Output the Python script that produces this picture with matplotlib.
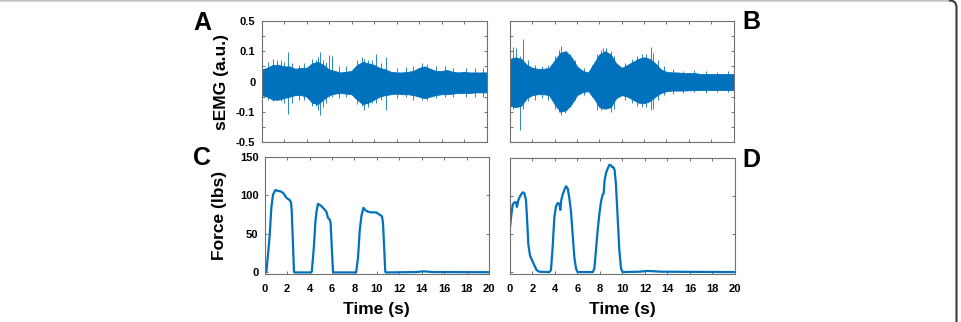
import numpy as np
import matplotlib
matplotlib.use('Agg')
import matplotlib.pyplot as plt
from matplotlib.patches import FancyBboxPatch
from matplotlib.lines import Line2D
from matplotlib.transforms import IdentityTransform

plt.rcParams['font.family'] = ['Liberation Sans', 'DejaVu Sans']
plt.rcParams['font.weight'] = 'bold'

blue = '#0072BD'

emg_t = np.arange(0, 20.5, 0.5)
emg_a_upper = [0.040, 0.045, 0.055, 0.055, 0.050, 0.050, 0.042, 0.045, 0.045, 0.060,
               0.065, 0.055, 0.040, 0.035, 0.030, 0.032, 0.035, 0.055, 0.065, 0.060,
               0.055, 0.045, 0.040, 0.032, 0.030, 0.030, 0.032, 0.035, 0.045, 0.050,
               0.042, 0.035, 0.035, 0.038, 0.032, 0.030, 0.032, 0.030, 0.030, 0.030, 0.030]
emg_a_lower = [-0.045, -0.050, -0.060, -0.060, -0.055, -0.050, -0.045, -0.045, -0.050, -0.070,
               -0.075, -0.060, -0.045, -0.040, -0.038, -0.040, -0.042, -0.060, -0.075, -0.070,
               -0.060, -0.050, -0.045, -0.042, -0.040, -0.042, -0.042, -0.045, -0.050, -0.055,
               -0.050, -0.045, -0.042, -0.042, -0.040, -0.038, -0.038, -0.038, -0.036, -0.036, -0.036]
emg_b_upper = [0.075, 0.080, 0.075, 0.055, 0.045, 0.042, 0.042, 0.045, 0.070, 0.095,
               0.100, 0.080, 0.050, 0.035, 0.030, 0.060, 0.090, 0.100, 0.090, 0.060,
               0.045, 0.055, 0.065, 0.075, 0.080, 0.075, 0.060, 0.040, 0.032, 0.030,
               0.030, 0.028, 0.028, 0.028, 0.025, 0.025, 0.025, 0.025, 0.025, 0.025, 0.025]
emg_b_lower = [-0.080, -0.085, -0.080, -0.055, -0.045, -0.042, -0.042, -0.045, -0.075, -0.100,
               -0.095, -0.075, -0.045, -0.035, -0.032, -0.055, -0.085, -0.090, -0.085, -0.055,
               -0.045, -0.050, -0.060, -0.070, -0.072, -0.065, -0.050, -0.038, -0.032, -0.030,
               -0.030, -0.030, -0.029, -0.029, -0.028, -0.028, -0.028, -0.028, -0.028, -0.028, -0.028]

# spikes sticking out of the band: time, top, bottom
spike_a_t = [0.6, 1.0, 1.4, 1.7, 2.0, 2.38, 2.7, 3.3, 3.8, 4.5, 4.8, 5.0, 5.2, 5.5, 5.7,
             6.0, 6.3, 6.9, 7.5, 8.5, 8.9, 9.1, 9.5, 9.8, 10.2, 10.6, 11.1, 12.0, 12.8,
             13.5, 14.3, 14.7, 15.5, 16.3, 17.0, 18.2, 19.0, 19.7]
spike_a_hi = [0.065, 0.075, 0.072, 0.070, 0.065, 0.097, 0.060, 0.055, 0.060, 0.075, 0.070,
              0.080, 0.097, 0.070, 0.065, 0.088, 0.085, 0.050, 0.050, 0.070, 0.080, 0.075,
              0.072, 0.070, 0.090, 0.060, 0.080, 0.045, 0.048, 0.050, 0.060, 0.058, 0.050,
              0.050, 0.045, 0.045, 0.045, 0.045]
spike_a_lo = [-0.060, -0.065, -0.060, -0.065, -0.070, -0.128, -0.070, -0.060, -0.060, -0.080,
              -0.080, -0.095, -0.140, -0.085, -0.070, -0.050, -0.050, -0.055, -0.050, -0.075,
              -0.080, -0.095, -0.085, -0.070, -0.070, -0.060, -0.095, -0.055, -0.050, -0.060,
              -0.062, -0.060, -0.055, -0.050, -0.050, -0.050, -0.050, -0.050]
spike_b_t = [0.3, 0.55, 0.9, 1.15, 1.6, 2.2, 2.9, 3.4, 4.0, 4.4, 4.6, 4.9, 5.1, 5.4, 5.8,
             6.6, 7.3, 7.8, 8.1, 8.3, 8.6, 9.0, 9.3, 10.3, 10.9, 11.4, 11.8, 12.2, 12.6,
             12.8, 13.2, 13.8, 14.6, 15.5, 16.5, 17.5, 18.5, 19.5]
spike_b_hi = [0.160, 0.140, 0.085, 0.260, 0.070, 0.055, 0.050, 0.055, 0.085, 0.120, 0.168,
              0.105, 0.095, 0.090, 0.070, 0.045, 0.055, 0.090, 0.120, 0.140, 0.148, 0.105,
              0.085, 0.060, 0.075, 0.085, 0.090, 0.090, 0.160, 0.095, 0.070, 0.050, 0.040,
              0.035, 0.038, 0.035, 0.033, 0.035]
spike_b_lo = [-0.090, -0.075, -0.340, -0.090, -0.065, -0.060, -0.055, -0.060, -0.090, -0.100,
              -0.140, -0.110, -0.090, -0.085, -0.060, -0.045, -0.050, -0.095, -0.095, -0.090,
              -0.085, -0.100, -0.090, -0.060, -0.070, -0.080, -0.085, -0.085, -0.095, -0.090,
              -0.060, -0.045, -0.040, -0.038, -0.035, -0.038, -0.035, -0.035]

# force traces
force_c_t = [0, 0.15, 0.3, 0.45, 0.59, 0.74, 0.95, 1.19, 1.49, 1.72, 1.93, 2.23, 2.35, 2.41, 2.5,
             2.61, 2.67, 4.1, 4.2, 4.4, 4.52, 4.62, 4.75, 5.0, 5.2, 5.5, 5.64, 5.79, 5.88, 5.97,
             6.09, 6.15, 8.15, 8.32, 8.47, 8.62, 8.8, 8.97, 9.2, 9.5, 9.95, 10.25, 10.46, 10.55,
             10.64, 10.75, 10.8, 13.5, 14.2, 15, 20]
force_c = [0, 1, 24, 49, 84, 101, 107, 106, 105, 102, 97, 94, 91, 79, 45,
           1, 0, 0, 1, 36, 66, 79, 89, 87, 84, 79, 71, 69, 64, 36,
           1, 0, 0, 19, 54, 73, 84, 81, 79, 78, 78, 75, 73, 64,
           36, 1, 0, 0.5, 1.5, 0.5, 0.3]
force_d_t = [0, 0.09, 0.24, 0.39, 0.53, 0.62, 0.71, 0.83, 0.98, 1.13, 1.27, 1.42, 1.51, 1.63, 1.78,
             1.96, 2.16, 2.37, 2.6, 3.5, 3.64, 3.79, 3.94, 4.09, 4.24, 4.38, 4.47, 4.56, 4.68, 4.83,
             4.98, 5.13, 5.27, 5.42, 5.57, 5.72, 5.87, 6.01, 7.35, 7.5, 7.64, 7.79, 7.94, 8.09, 8.24,
             8.33, 8.41, 8.53, 8.68, 8.83, 8.98, 9.07, 9.19, 9.3, 9.42, 9.57, 9.72, 9.87, 10.01,
             11.5, 12.2, 13.5, 20]
force_d = [59, 72, 89, 92, 92, 86, 93, 98, 102, 105, 104, 95, 72, 37, 22,
           16, 9.5, 3, 1, 0.5, 3, 33, 72, 87, 91, 90, 82, 95, 102, 108,
           113, 110, 98, 80, 50, 20, 5, 0.5, 0.5, 5, 29, 55, 76, 93, 102,
           104, 121, 130, 136, 141, 140.5, 138, 138, 134, 115, 72, 29, 5, 0.5,
           1, 2, 1, 0.5]

x_ticks = np.arange(0, 21, 2)
emg_ticks = [-0.5, -0.1, 0, 0.1, 0.5]
emg_labels = ['-0.5', '-0.1', '0', '0.1', '0.5']
force_ticks = [0, 50, 100, 150]


def fwd(y):
    y = np.asarray(y, float)
    a = np.abs(y)
    return np.where(a <= 0.1, y * 10, np.sign(y) * (1 + (a - 0.1) / 0.4))


def inv(u):
    u = np.asarray(u, float)
    a = np.abs(u)
    return np.where(a <= 1, u / 10, np.sign(u) * (0.1 + (a - 1) * 0.4))


W, H = 961, 322
fig = plt.figure(figsize=(W / 100, H / 100), dpi=100)


def px_axes(l, r, t, b):
    return fig.add_axes([l / W, (H - b) / H, (r - l) / W, (b - t) / H])


def style(ax):
    for s in ax.spines.values():
        s.set_color('#707070')
        s.set_linewidth(0.8)
    ax.tick_params(which='both', direction='in', length=2.5, width=0.7, color='#707070',
                   top=True, right=True, labelsize=8, pad=4.5)
    ax.set_xlim(0, 20)
    ax.set_xticks(x_ticks)


axA = px_axes(261.5, 486.5, 21, 142)
axB = px_axes(510, 733.5, 21, 142)
axC = px_axes(264.7, 489, 157, 274)
axD = px_axes(510, 735, 158, 274)

for ax, up, lo, st, sh, sl in [(axA, emg_a_upper, emg_a_lower, spike_a_t, spike_a_hi, spike_a_lo),
                               (axB, emg_b_upper, emg_b_lower, spike_b_t, spike_b_hi, spike_b_lo)]:
    ax.set_yscale('function', functions=(fwd, inv))
    # spikes go under the dense band so only their tips show
    ax.vlines(st, sl, sh, color='#2a86c8', lw=0.7, zorder=1)
    ax.fill_between(emg_t, lo, up, color=blue, lw=0.6, zorder=2)
    style(ax)
    ax.set_ylim(-0.5, 0.5)
    ax.set_yticks(emg_ticks)
    ax.set_yticks([-0.3, -0.05, 0.05, 0.3], minor=True)
    ax.set_xticklabels([])

axA.set_yticklabels(emg_labels, fontweight='bold')
axB.set_yticklabels([])
axA.set_ylabel('sEMG (a.u.)', fontsize=12.5, fontweight='bold', labelpad=5)

for ax, t, f in [(axC, force_c_t, force_c), (axD, force_d_t, force_d)]:
    ax.plot(t, f, color=blue, lw=1.6)
    style(ax)
    ax.set_ylim(-2, 150)
    ax.set_yticks(force_ticks)
    ax.tick_params(axis='x', pad=7)
    ax.set_xticklabels([str(v) for v in x_ticks], fontweight='bold')
    ax.set_xlabel('Time (s)', fontsize=12.5, fontweight='bold', labelpad=6)

axC.set_yticklabels([str(v) for v in force_ticks], fontweight='bold')
axD.set_yticklabels([])
axC.set_ylabel('Force (lbs)', fontsize=12.5, fontweight='bold', labelpad=9)

# panel letters
for txt, x, y in [('A', 202, 23), ('B', 751, 22), ('C', 202, 158), ('D', 751, 160)]:
    fig.text(x / W, 1 - y / H, txt, fontsize=18, fontweight='bold', ha='center', va='center')

# page frame of the original figure (rounded corner, top-right)
frame = FancyBboxPatch((-40, -40), 996.5, 361.5, boxstyle='round,pad=0,rounding_size=7',
                       transform=IdentityTransform(), fill=False, ec='#3a3a3a', lw=1.5)
fig.patches.append(frame)
fig.lines.append(Line2D([0, 948], [321.5, 321.5], transform=IdentityTransform(),
                        color='#e0e0e0', lw=1.2))

fig.savefig('out.png', dpi=100)
